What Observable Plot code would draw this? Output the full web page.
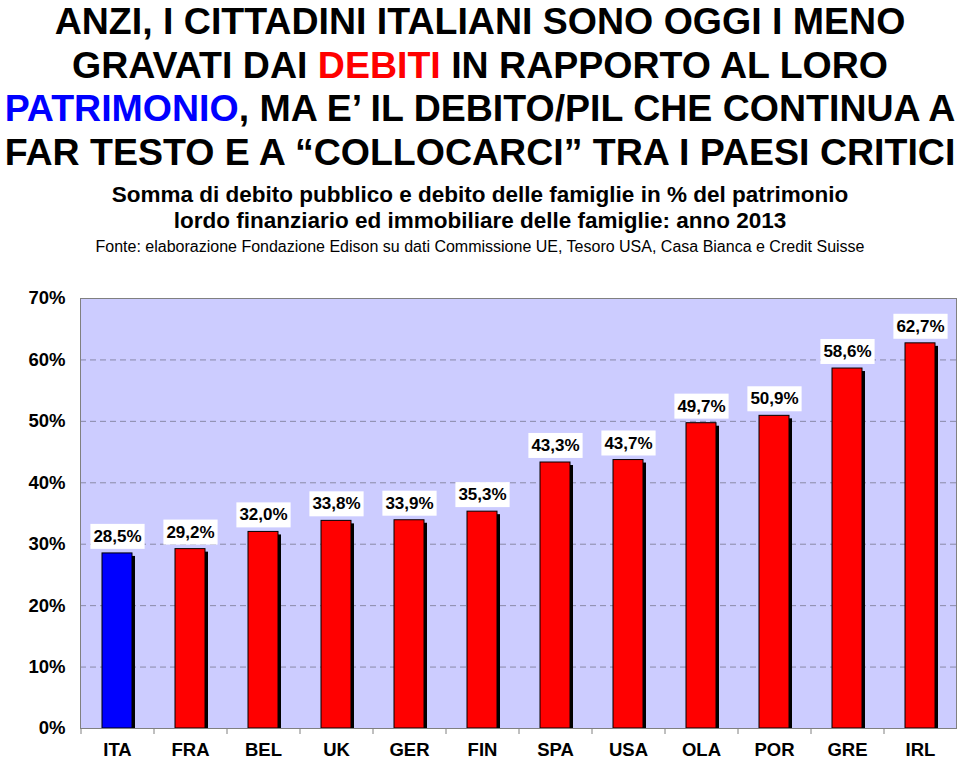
<!DOCTYPE html>
<html><head><meta charset="utf-8">
<script src="https://cdn.jsdelivr.net/npm/d3@7"></script>
<script src="https://cdn.jsdelivr.net/npm/@observablehq/plot@0.6"></script>
<style>
body{margin:0;background:#fff;width:960px;height:763px;overflow:hidden;font-family:"Liberation Sans",Arial,Helvetica,sans-serif;}
#head{height:260px;text-align:center;position:relative;}
#title{font-size:37.5px;font-weight:bold;line-height:43.5px;white-space:nowrap;color:#000;}
#sub{font-weight:bold;font-size:22.5px;line-height:26px;margin-top:8px;color:#000;white-space:nowrap;}
#src{font-size:16px;line-height:26px;color:#000;white-space:nowrap;}
.red{color:#ff0000}.blue{color:#0000ff}
</style>
</head><body>
<div id="head">
  <div id="title">ANZI, I CITTADINI ITALIANI SONO OGGI I MENO<br>GRAVATI DAI <span class="red">DEBITI</span> IN RAPPORTO AL LORO<br><span class="blue">PATRIMONIO</span>, MA E’ IL DEBITO/PIL CHE CONTINUA A<br>FAR TESTO E A “COLLOCARCI” TRA I PAESI CRITICI</div>
  <div id="sub">Somma di debito pubblico e debito delle famiglie in % del patrimonio<br>lordo finanziario ed immobiliare delle famiglie: anno 2013</div>
  <div id="src">Fonte: elaborazione Fondazione Edison su dati Commissione UE, Tesoro USA, Casa Bianca e Credit Suisse</div>
</div>
<div id="chart"></div>
<script>
const categories = ["ITA","FRA","BEL","UK","GER","FIN","SPA","USA","OLA","POR","GRE","IRL"];
const values = [28.5,29.2,32.0,33.8,33.9,35.3,43.3,43.7,49.7,50.9,58.6,62.7];
const yTicks = [0,10,20,30,40,50,60,70];
const gridTicks = [10,20,30,40,50,60];

const data = categories.map((c,i)=>({country:c, value:values[i]}));
const fmt = v => d3.format(".1f")(v).replace(".", ",") + "%";

const plot = Plot.plot({
  width: 960,
  height: 503,
  marginTop: 38,
  marginBottom: 35,
  marginLeft: 80,
  marginRight: 4,
  style: {fontFamily: '"Liberation Sans", Arial, sans-serif', background: "#fff", overflow: "visible"},
  x: {domain: categories, paddingInner: 0.59, paddingOuter: 0.295, label: null},
  y: {domain: [0,70], label: null},
  color: {domain: categories, range: categories.map(c => c === "ITA" ? "#0000ff" : "#ff0000")},
  marks: [
    Plot.frame({fill: "#ccccff", stroke: null}),
    Plot.ruleY(gridTicks, {stroke: "#8a8aa8", strokeDasharray: "6,4", strokeWidth: 1}),
    Plot.barY(data, {x: "country", y: "value", fill: "#000", dx: 3, dy: 3, clip: true}),
    Plot.barY(data, {x: "country", y: "value", fill: "country", stroke: "#000", strokeWidth: 1}),
    Plot.frame({stroke: "#808080", strokeWidth: 1}),
    Plot.axisX({tickSize: 6, tickFormat: () => "", dx: -36.5, stroke: "#808080"}),
    Plot.axisX({tickSize: 0, tickPadding: 14, fontSize: 18.5, fontWeight: "bold", fill: "#000"}),
    Plot.axisY({ticks: yTicks, tickSize: 0, tickPadding: 15, tickFormat: d => d + "%", fontSize: 18.5, fontWeight: "bold", fill: "#000"}),
    Plot.text(data, {x: "country", y: "value", text: d => fmt(d.value), dy: -17, lineAnchor: "middle", fontSize: 17, fontWeight: "bold", fill: "#000"})
  ]
});
document.getElementById("chart").appendChild(plot);

// white boxes behind value labels
d3.select(plot).selectAll('g[aria-label="text"] text').each(function(){
  const b = this.getBBox();
  const padX = 3, padY = 4;
  const r = document.createElementNS("http://www.w3.org/2000/svg","rect");
  r.setAttribute("x", b.x - padX);
  r.setAttribute("y", b.y - padY + 1);
  r.setAttribute("width", b.width + 2*padX);
  r.setAttribute("height", b.height + 2*padY - 2);
  r.setAttribute("fill", "#fff");
  r.setAttribute("stroke", "none");
  const t = this.getAttribute("transform");
  if (t) r.setAttribute("transform", t);
  this.parentNode.insertBefore(r, this);
});
</script>
</body></html>
